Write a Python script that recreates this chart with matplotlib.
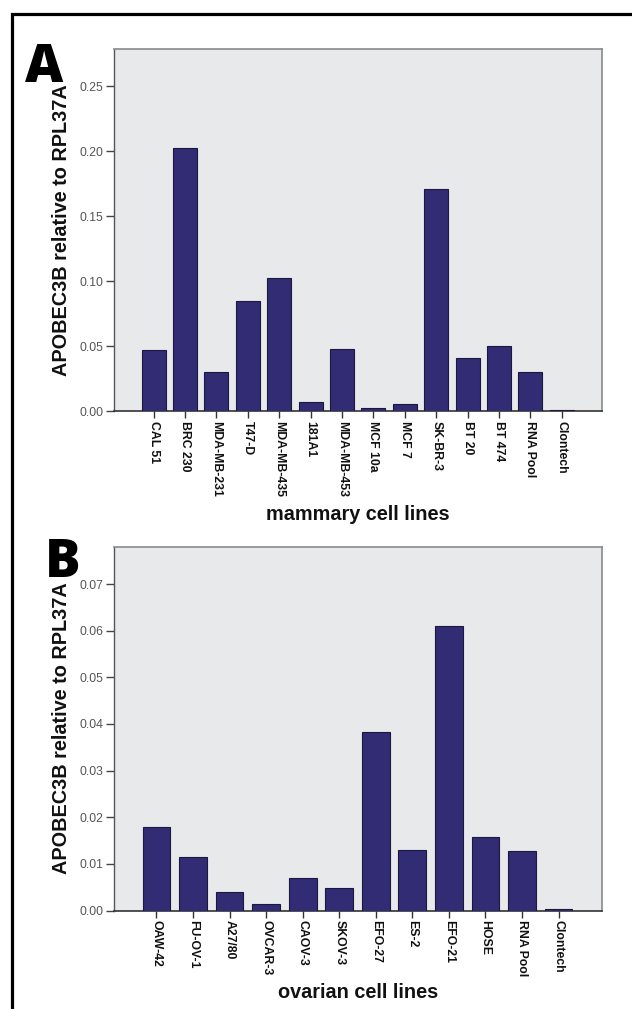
import matplotlib
matplotlib.use("Agg")
import matplotlib.pyplot as plt
from matplotlib.lines import Line2D
import numpy as np

# ---- data ----
mammary_lines = ["CAL 51", "BRC 230", "MDA-MB-231", "T47-D", "MDA-MB-435", "181A1",
                 "MDA-MB-453", "MCF 10a", "MCF 7", "SK-BR-3", "BT 20", "BT 474",
                 "RNA Pool", "Clontech"]
mammary_values = [0.047, 0.202, 0.030, 0.0846, 0.1025, 0.0069, 0.0474, 0.0023,
                  0.0056, 0.1708, 0.0408, 0.050, 0.030, 0.0005]
mammary_yticks = [0.00, 0.05, 0.10, 0.15, 0.20, 0.25]

ovarian_lines = ["OAW-42", "FU-OV-1", "A27/80", "OVCAR-3", "CAOV-3", "SKOV-3",
                 "EFO-27", "ES-2", "EFO-21", "HOSE", "RNA Pool", "Clontech"]
ovarian_values = [0.0178, 0.0115, 0.0040, 0.0014, 0.0070, 0.0048, 0.0383,
                  0.0129, 0.0610, 0.0158, 0.0128, 0.0003]
ovarian_yticks = [0.00, 0.01, 0.02, 0.03, 0.04, 0.05, 0.06, 0.07]

ylabel = "APOBEC3B relative to RPL37A"

W, H = 632, 1009
fig = plt.figure(figsize=(W / 100, H / 100), dpi=100)
fig.patch.set_facecolor("white")

BAR = "#322c74"
BG = "#e8e9eb"
SANS = ["Liberation Sans", "DejaVu Sans"]


def px_axes(l, t, r, b):
    return [l / W, 1 - b / H, (r - l) / W, (b - t) / H]


def draw_panel(rect, names, vals, yticks, ylim_top, xlim, xlabel, ylab_y, xlab_y, letter, letter_xy):
    ax = fig.add_axes(rect)
    ax.set_facecolor(BG)
    x = np.arange(len(names))
    ax.bar(x, vals, width=0.76, color=BAR, edgecolor="#1b1740", linewidth=0.8, zorder=3)
    ax.set_xlim(*xlim)
    ax.set_ylim(0, ylim_top)
    ax.set_xticks(x)
    ax.set_xticklabels(names, rotation=-90, fontsize=8.8, fontweight="bold",
                       family=SANS, color="#111111", va="top", ha="center")
    ax.set_yticks(yticks)
    ax.set_yticklabels([f"{v:.2f}" for v in yticks], fontsize=8.8, family=SANS, color="#555555")
    ax.tick_params(axis="x", length=5, width=1.0, color="#333333", pad=2, direction="out")
    ax.tick_params(axis="y", length=6, width=1.0, color="#444444", pad=1.5, direction="out")
    for s in ["top", "right"]:
        ax.spines[s].set_color("#8a8a8a")
        ax.spines[s].set_linewidth(1.2)
    ax.spines["left"].set_color("#555555")
    ax.spines["left"].set_linewidth(1.0)
    ax.spines["bottom"].set_color("#333333")
    ax.spines["bottom"].set_linewidth(1.2)
    fig.text(62 / W, 1 - ylab_y / H, ylabel, rotation=90, ha="center", va="center",
             fontsize=14.3, fontweight="bold", family=SANS, color="#111111")
    fig.text(358 / W, 1 - xlab_y / H, xlabel, ha="center", va="center",
             fontsize=14.3, fontweight="bold", family=SANS, color="#111111")
    fig.text(letter_xy[0] / W, 1 - letter_xy[1] / H, letter, ha="center", va="baseline",
             fontsize=38, fontweight="heavy", family=["Open Sans", "DejaVu Sans"], color="black")
    return ax


draw_panel(px_axes(114, 49, 602, 411), mammary_lines, mammary_values, mammary_yticks,
           0.2785, (-1.26, 14.28), "mammary cell lines", 230, 514, "A", (44.5, 82))
draw_panel(px_axes(114, 546.7, 602, 910.5), ovarian_lines, ovarian_values, ovarian_yticks,
           0.078, (-1.16, 12.19), "ovarian cell lines", 728.5, 993, "B", (63, 577))

# outer black frame (left and top edges visible)
fx = 11.5 / W
fy = 1 - 14 / H
fig.add_artist(Line2D([fx, fx, 1.05], [-0.05, fy, fy], transform=fig.transFigure,
                      color="black", linewidth=2.3, solid_joinstyle="miter"))

fig.savefig("out.png", dpi=100, facecolor="white")
